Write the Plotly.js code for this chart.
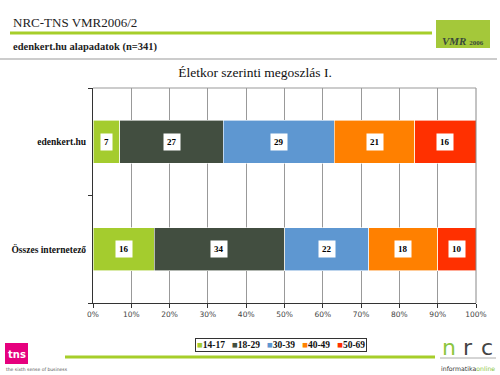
<!DOCTYPE html>
<html><head><meta charset="utf-8">
<script src="https://cdn.plot.ly/plotly-3.0.1.min.js"></script>
<style>html,body{margin:0;padding:0;background:#fff;}#chart{width:500px;height:375px;}</style>
</head><body><div id="chart"></div>
<script>
const categories = ["edenkert.hu", "Összes internetező"];
const seriesNames = ["14-17", "18-29", "30-39", "40-49", "50-69"];
const values_14_17 = [7, 16];
const values_18_29 = [27, 34];
const values_30_39 = [29, 22];
const values_40_49 = [21, 18];
const values_50_69 = [16, 10];
const xTickVals = [0, 10, 20, 30, 40, 50, 60, 70, 80, 90, 100];
const xTickText = ["0%", "10%", "20%", "30%", "40%", "50%", "60%", "70%", "80%", "90%", "100%"];

const series = [values_14_17, values_18_29, values_30_39, values_40_49, values_50_69];
const colors = ["#a4cc2e", "#424e40", "#5e97d1", "#ff8000", "#ff3000"];
const serif = "Liberation Serif, DejaVu Serif, serif";

// plot area in page pixels: left 93, right 476, top 88, bottom 303
const M = {l: 93, r: 24, t: 88, b: 72};
const PW = 500 - M.l - M.r, PH = 375 - M.t - M.b;
const fx = px => (px - M.l) / PW;
const fy = py => (375 - M.b - py) / PH;

const traces = series.map((vals, i) => ({
  type: "bar", orientation: "h", name: seriesNames[i],
  y: categories, x: vals,
  marker: {color: colors[i], line: {color: "#ffffff", width: 0.6}},
  width: 0.4, hoverinfo: "none", showlegend: false
}));

const annotations = [];
categories.forEach((c, ci) => {
  let cum = 0;
  series.forEach((vals) => {
    const v = vals[ci];
    annotations.push({
      x: cum + v / 2, y: c, xref: "x", yref: "y", text: "<b>" + v + "</b>",
      showarrow: false, bgcolor: "#ffffff", borderpad: 3,
      font: {family: serif, size: 9, color: "#000"}
    });
    cum += v;
  });
});

// legend (drawn as a single boxed text from the series names and colours)
const legendText = seriesNames.map((n, i) =>
  "<span style='color:" + colors[i] + "'>■</span><b>" + n + "</b>").join("   ");
annotations.push({
  xref: "paper", yref: "paper", x: fx(280.5), y: fy(345), xanchor: "center", yanchor: "middle",
  showarrow: false, text: legendText, bgcolor: "#ffffff", bordercolor: "#333", borderwidth: 1, borderpad: 1,
  font: {family: serif, size: 9.5, color: "#111"}
});

// slide texts
annotations.push(
  {xref: "paper", yref: "paper", x: fx(11), y: fy(23), xanchor: "left", yanchor: "middle", showarrow: false,
   text: "NRC-TNS VMR2006/2", font: {family: serif, size: 13, color: "#222"}},
  {xref: "paper", yref: "paper", x: fx(11), y: fy(47), xanchor: "left", yanchor: "middle", showarrow: false,
   text: "<b>edenkert.hu alapadatok (n=341)</b>", font: {family: serif, size: 10.5, color: "#222"}},
  {xref: "paper", yref: "paper", x: fx(463), y: fy(41), xanchor: "center", yanchor: "middle", showarrow: false,
   text: "<b><i>VMR</i> <span style='font-size:7px'>2006</span></b>", font: {family: serif, size: 11, color: "#3a4a3a"}},
  {xref: "paper", yref: "paper", x: fx(16.5), y: fy(354), xanchor: "center", yanchor: "middle", showarrow: false,
   text: "<b>tns</b>", font: {family: "DejaVu Sans, sans-serif", size: 10, color: "#ffffff"}},
  {xref: "paper", yref: "paper", x: fx(4), y: fy(369), xanchor: "left", yanchor: "middle", showarrow: false,
   text: "the sixth sense of business", font: {family: "DejaVu Sans, sans-serif", size: 4.5, color: "#555"}},
  {xref: "paper", yref: "paper", x: fx(449), y: fy(347), xanchor: "center", yanchor: "middle", showarrow: false,
   text: "n", font: {family: "DejaVu Sans, sans-serif", size: 22, color: "#8cc63f"}},
  {xref: "paper", yref: "paper", x: fx(468), y: fy(347), xanchor: "center", yanchor: "middle", showarrow: false,
   text: "r", font: {family: "DejaVu Sans, sans-serif", size: 22, color: "#444"}},
  {xref: "paper", yref: "paper", x: fx(487), y: fy(347), xanchor: "center", yanchor: "middle", showarrow: false,
   text: "c", font: {family: "DejaVu Sans, sans-serif", size: 22, color: "#444"}},
  {xref: "paper", yref: "paper", x: fx(468), y: fy(368), xanchor: "center", yanchor: "middle", showarrow: false,
   text: "<span style='color:#333'>informatika</span><span style='color:#8cc63f'>online</span>", font: {family: "DejaVu Sans, sans-serif", size: 6.2, color: "#333"}}
);

const shapes = [
  {type: "line", xref: "paper", yref: "paper", x0: fx(10), x1: fx(432), y0: fy(33), y1: fy(33), line: {color: "#a6ce2a", width: 3}},
  {type: "line", xref: "paper", yref: "paper", x0: fx(0), x1: fx(497), y0: fy(59), y1: fy(59), line: {color: "#999", width: 1}},
  {type: "rect", xref: "paper", yref: "paper", x0: fx(436), x1: fx(490), y0: fy(48), y1: fy(20), fillcolor: "#a4c83a", line: {width: 0}, layer: "below"},
  {type: "line", xref: "paper", yref: "paper", x0: fx(65), x1: fx(435), y0: fy(357), y1: fy(357), line: {color: "#a6ce2a", width: 3}},
  {type: "rect", xref: "paper", yref: "paper", x0: fx(5), x1: fx(28), y0: fy(364), y1: fy(343), fillcolor: "#e6007e", line: {width: 0}},
  {type: "line", xref: "paper", yref: "paper", x0: fx(440), x1: fx(496), y0: fy(358), y1: fy(358), line: {color: "#aaa", width: 1}},
  {type: "line", xref: "paper", yref: "paper", x0: 1.0, x1: 1.0, y0: 0, y1: 1, line: {color: "#888", width: 1}},
  {type: "line", xref: "paper", yref: "paper", x0: 0, x1: 1, y0: 1, y1: 1, line: {color: "#999", width: 1}}
];

const layout = {
  width: 500, height: 375,
  margin: M,
  paper_bgcolor: "#ffffff", plot_bgcolor: "#ffffff",
  barmode: "stack", showlegend: false,
  title: {text: "Életkor szerinti megoszlás I.", x: 0.51, xanchor: "center", y: 1 - 72 / 375, yanchor: "middle",
          font: {family: serif, size: 13.5, color: "#111"}},
  xaxis: {range: [0, 100], tickvals: xTickVals, ticktext: xTickText, showgrid: true, gridcolor: "#999", gridwidth: 1,
          showline: true, linecolor: "#333", ticks: "outside", ticklen: 4, tickcolor: "#333",
          tickfont: {family: "DejaVu Sans, sans-serif", size: 7.5, color: "#444"}, zeroline: false, fixedrange: true,
          automargin: false},
  yaxis: {autorange: false, range: [1.5, -0.5], showline: true, linecolor: "#333", ticks: "outside", ticklen: 4,
          tickcolor: "#333", tickson: "boundaries", showgrid: false, ticklabelstandoff: 4,
          tickmode: "array", tickvals: categories, ticktext: categories.map(c => "<b>" + c + "</b>"),
          tickfont: {family: serif, size: 9.5, color: "#111"}, zeroline: false, automargin: false},
  annotations: annotations, shapes: shapes
};

Plotly.newPlot("chart", traces, layout, {displayModeBar: false, staticPlot: true});
</script></body></html>
